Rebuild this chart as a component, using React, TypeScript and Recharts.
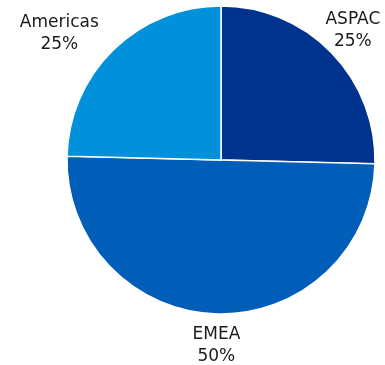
import React from "react";
import { PieChart, Pie, Cell } from "recharts";

const regions = ["ASPAC", "EMEA", "Americas"];
const shares = [25.4, 50, 24.6];
const shareLabels = ["25%", "50%", "25%"];
const colors = ["#00338D", "#005EB8", "#0091DA"];

const data = regions.map((name, i) => ({ name, value: shares[i], label: shareLabels[i] }));

// label placement tweaks (radius from centre, horizontal and vertical shift), per slice
const labelRadius = [187, 184, 180];
const labelShiftX = [-2, 0, -36];
const labelShiftY = [0, 0, 1];

const RADIAN = Math.PI / 180;

const renderLabel = (props: any) => {
  const { cx, cy, midAngle, index } = props;
  const r = labelRadius[index];
  const x = cx + r * Math.cos(-midAngle * RADIAN) + labelShiftX[index];
  const y = cy + r * Math.sin(-midAngle * RADIAN) + labelShiftY[index];
  return (
    <text
      x={x}
      y={y - 5}
      textAnchor="middle"
      fill="#1a1a1a"
      fontSize={17}
      fontFamily="'DejaVu Sans', sans-serif"
    >
      <tspan x={x} dy={0}>{data[index].name}</tspan>
      <tspan x={x} dy={22}>{data[index].label}</tspan>
    </text>
  );
};

export default function App() {
  return (
    <div style={{ position: "fixed", left: 0, top: 0, width: 385, height: 365 }}>
      <PieChart width={385} height={365} margin={{ top: 0, right: 0, bottom: 0, left: 0 }}>
        <Pie
          data={data}
          dataKey="value"
          cx={221}
          cy={160}
          outerRadius={154}
          startAngle={90}
          endAngle={-270}
          stroke="#ffffff"
          strokeWidth={1.5}
          label={renderLabel}
          labelLine={false}
          isAnimationActive={false}
        >
          {data.map((d, i) => (
            <Cell key={d.name} fill={colors[i]} />
          ))}
        </Pie>
      </PieChart>
    </div>
  );
}
